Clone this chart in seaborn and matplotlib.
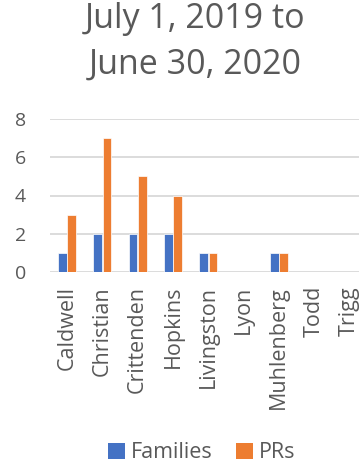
import matplotlib
matplotlib.use("Agg")
import matplotlib.pyplot as plt
import seaborn as sns
import pandas as pd
from matplotlib.patches import Patch

counties = ["Caldwell", "Christian", "Crittenden", "Hopkins", "Livingston",
            "Lyon", "Muhlenberg", "Todd", "Trigg"]
families = [1, 2, 2, 2, 1, 0, 1, 0, 0]
prs = [3, 7, 5, 4, 1, 0, 1, 0, 0]
series_names = ["Families", "PRs"]
y_ticks = [0, 2, 4, 6, 8]
title_lines = ["July 1, 2019 to", "June 30, 2020"]

colors = ["#4472C4", "#ED7D31"]
text_color = "#595959"
grid_color = "#D9D9D9"

df = pd.DataFrame({
    "County": counties * 2,
    "Series": [series_names[0]] * len(counties) + [series_names[1]] * len(counties),
    "Value": families + prs,
})

sns.set_theme(style="white")
plt.rcParams["font.family"] = ["Open Sans", "DejaVu Sans"]

W, H = 359, 463
fig = plt.figure(figsize=(W / 100, H / 100), dpi=100)
# plot area runs past the right edge of the figure
left_px, right_px, top_px, bottom_px = 49.5, 367, 119, 272
ax = fig.add_axes([left_px / W, 1 - bottom_px / H,
                   (right_px - left_px) / W, (bottom_px - top_px) / H])

sns.barplot(data=df, x="County", y="Value", hue="Series", order=counties,
            hue_order=series_names, palette=colors, width=0.53, gap=0.06,
            saturation=1, edgecolor="white", linewidth=0.5, ax=ax, legend=False)

ax.set_ylim(0, 8)
ax.set_xlim(-0.5, len(counties) - 0.5)
ax.set_yticks(y_ticks)
ax.set_axisbelow(True)
ax.yaxis.grid(True, color=grid_color, linewidth=1.3)
ax.xaxis.grid(False)
for s in ax.spines.values():
    s.set_visible(False)
ax.set_xlabel("")
ax.set_ylabel("")
ax.tick_params(axis="y", length=0, pad=17, labelsize=14, labelcolor=text_color)
ax.tick_params(axis="x", length=0, pad=10, labelsize=15.5, labelcolor=text_color)
ax.set_xticks(range(len(counties)))
ax.set_xticklabels(counties, rotation=90, va="top", ha="center")

# two-line title, one baseline per line
for line, base_px in zip(title_lines, [28, 74]):
    fig.text(195 / W, 1 - base_px / H, line, ha="center", va="baseline",
             fontsize=24.5, color=text_color)

handles = [Patch(facecolor=c, edgecolor="none") for c in colors]
fig.legend(handles, series_names, loc="center", bbox_to_anchor=(202 / W, 1 - 453 / H),
           ncol=2, frameon=False, fontsize=15.5, labelcolor=text_color,
           handlelength=0.75, handleheight=0.75, handletextpad=0.3, columnspacing=1.1)

fig.savefig("out.png", dpi=100, facecolor="white")
